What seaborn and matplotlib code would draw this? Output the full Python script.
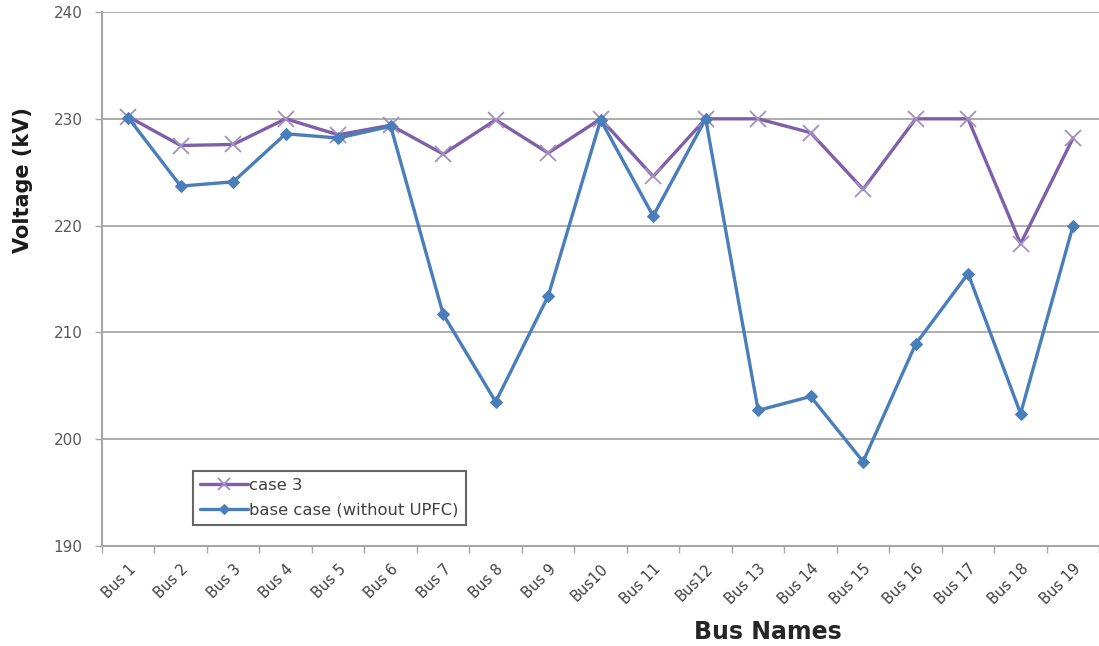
import matplotlib
matplotlib.use("Agg")
import matplotlib.pyplot as plt
import seaborn as sns
from matplotlib.ticker import FixedLocator, NullFormatter

buses = ["Bus 1", "Bus 2", "Bus 3", "Bus 4", "Bus 5", "Bus 6", "Bus 7", "Bus 8",
         "Bus 9", "Bus10", "Bus 11", "Bus12", "Bus 13", "Bus 14", "Bus 15",
         "Bus 16", "Bus 17", "Bus 18", "Bus 19"]
case3 = [230.2, 227.5, 227.6, 230.0, 228.5, 229.4, 226.7, 229.9, 226.8, 230.0,
         224.6, 230.0, 230.0, 228.7, 223.4, 230.0, 230.0, 218.3, 228.2]
base_case = [230.1, 223.7, 224.1, 228.6, 228.2, 229.3, 211.7, 203.5, 213.4, 229.9,
             220.9, 230.0, 202.7, 204.0, 197.9, 208.9, 215.5, 202.4, 220.0]
series_names = ["case 3", "base case (without UPFC)"]
y_ticks = [190, 200, 210, 220, 230, 240]

sns.set_style("white")
plt.rcParams["font.family"] = ["DejaVu Sans"]

pos = list(range(len(buses)))

fig = plt.figure(figsize=(10.99, 6.46), dpi=100)
ax = fig.add_axes([0.0928, 0.1548, 0.9075, 0.8266])

# case 3: purple line with x markers
sns.lineplot(x=pos, y=case3, color="#7f60a8", linewidth=2.4, marker="x",
             markersize=11, markeredgewidth=1.3, markeredgecolor="#a38fc4",
             ax=ax, label=series_names[0], legend=False)
# base case: blue line with diamond markers
sns.lineplot(x=pos, y=base_case, color="#4a7ebb", linewidth=2.4, marker="D",
             markersize=6, markeredgecolor="#4a7ebb", ax=ax,
             label=series_names[1], legend=False)

ax.set_xlim(-0.5, len(buses) - 0.5)
ax.set_ylim(190, 240)
ax.set_yticks(y_ticks)
ax.yaxis.grid(True, color="#a6a6a6", linewidth=1.3)
ax.xaxis.grid(False)

ax.set_xticks(pos)
ax.set_xticklabels(buses, rotation=45, ha="right", va="top",
                   rotation_mode="anchor", fontsize=10.5, color="#404040")
ax.xaxis.set_minor_locator(FixedLocator([i - 0.5 for i in range(len(buses) + 1)]))
ax.xaxis.set_minor_formatter(NullFormatter())
ax.tick_params(axis="x", which="major", length=0, pad=11)
ax.tick_params(axis="x", which="minor", length=5, width=1, color="#a6a6a6",
               direction="out", bottom=True)
ax.tick_params(axis="y", which="major", length=5, width=1, color="#a6a6a6",
               direction="out", left=True, labelsize=11, labelcolor="#595959", pad=9)

for side in ["top", "right"]:
    ax.spines[side].set_visible(False)
for side in ["left", "bottom"]:
    ax.spines[side].set_color("#a6a6a6")
    ax.spines[side].set_linewidth(1.5)

ax.set_xlabel("Bus Names", fontsize=17, fontweight="bold", color="#262626")
ax.xaxis.set_label_coords(0.668, -0.138)
ax.set_ylabel("Voltage (kV)", fontsize=15, fontweight="bold", color="#1a1a1a")
ax.yaxis.set_label_coords(-0.069, 0.685)

handles = [ax.lines[0], ax.lines[1]]
leg = ax.legend(handles, series_names, loc="lower left", bbox_to_anchor=(0.091, 0.039),
                fontsize=11.8, frameon=True, fancybox=False, handlelength=2.9,
                handletextpad=0.1, borderpad=0.45, labelspacing=0.6, borderaxespad=0,
                markerscale=0.8)
leg.get_frame().set_edgecolor("#404040")
leg.get_frame().set_linewidth(1.5)
for t in leg.get_texts():
    t.set_color("#404040")

fig.savefig("out.png", dpi=100)
